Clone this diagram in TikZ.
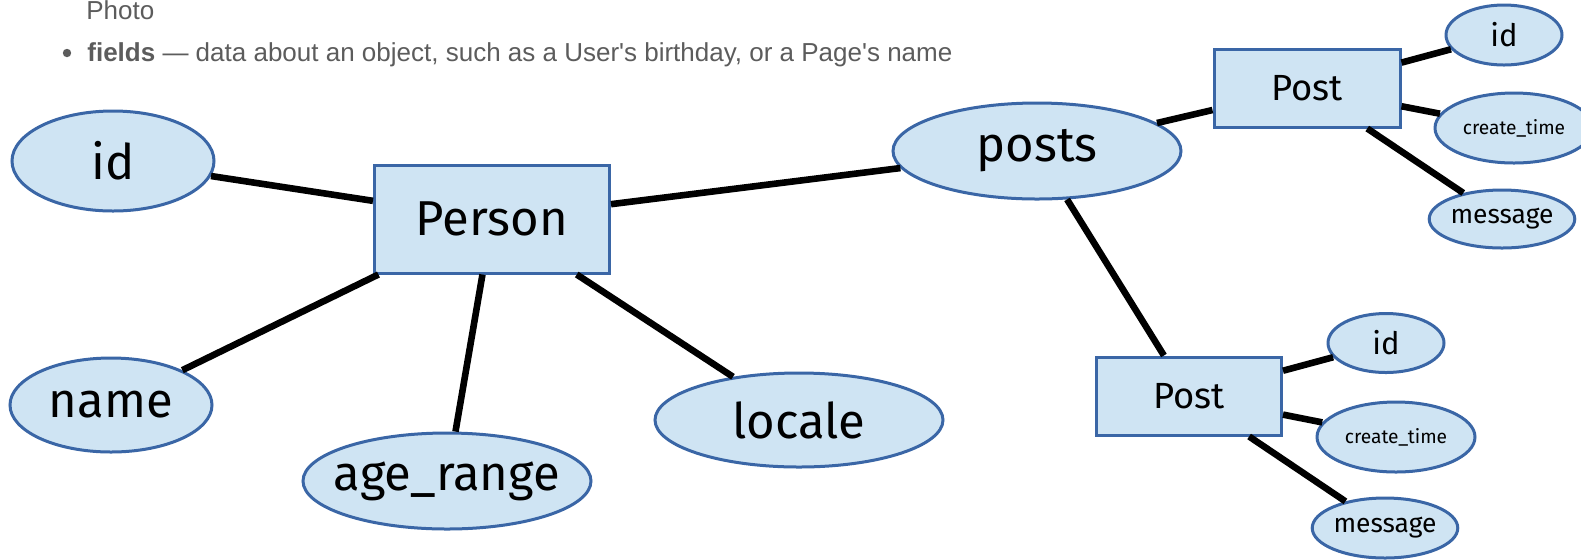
\documentclass[tikz,border=0pt]{standalone}
\usepackage{fontspec}
\setmainfont{Fira Sans}
\newfontfamily\notefont{Liberation Sans}
\usetikzlibrary{shapes.geometric}
\definecolor{attrfill}{HTML}{CFE4F3}
\definecolor{attrline}{HTML}{3A66A6}
\definecolor{notegray}{HTML}{5C5C5C}
\tikzset{
  attr/.style={
    ellipse,
    draw=attrline,
    fill=attrfill,
    line width=1.5pt,
    inner sep=0pt
  },
  entity/.style={
    rectangle,
    draw=attrline,
    fill=attrfill,
    line width=1.5pt,
    inner sep=0pt
  },
  note/.style={
    anchor=base west,
    inner sep=0pt,
    text=notegray,
    font=\notefont\fontsize{13}{15}\selectfont
  },
  big label/.style={font=\fontsize{24.5}{27}\selectfont},
  post label/.style={font=\fontsize{18.2}{20}\selectfont},
  id label/.style={font=\fontsize{15.5}{17}\selectfont},
  small label/.style={font=\fontsize{9.6}{11}\selectfont},
  msg label/.style={font=\fontsize{13.2}{15}\selectfont},
  link/.style={line width=3.3pt, black}
}

\begin{document}
\begin{tikzpicture}[x=0.5pt, y=-0.5pt]
    \useasboundingbox (0,0) rectangle (1581,559);
    \fill[white] (0,0) rectangle (1581,559);

    % note text above the diagram
    \node[note] (photo) at (86,19) {Photo};
    \fill[notegray] (67,53) circle (2.1pt);
    \node[note] (fields) at (87,61)
      {\textbf{fields} — data about an object, such as a User's birthday, or a Page's name};

    % Person and its fields
    \node[entity, big label, minimum width=117.5pt, minimum height=54pt] (person) at (492,219) {Person};
    \node[attr, big label, minimum width=101pt, minimum height=50pt] (pid) at (113,161) {id};
    \node[attr, big label, minimum width=101pt, minimum height=47pt] (pname) at (111,405) {name};
    \node[attr, big label, inner xsep=-14pt, minimum width=144pt, minimum height=48pt] (page) at (447,481) {age\_range};
    \node[attr, big label, minimum width=144pt, minimum height=47pt] (plocale) at (799,420) {locale};
    \node[attr, big label, minimum width=144pt, minimum height=48pt] (posts) at (1037,151) {posts};

    % upper Post
    \node[entity, post label, minimum width=93pt, minimum height=39pt] (post1) at (1307,88) {Post};
    \node[attr, id label, minimum width=58pt, minimum height=30pt] (p1id) at (1504,35) {id};
    \node[attr, small label, minimum width=79pt, minimum height=35pt] (p1time) at (1514,128) {create\_time};
    \node[attr, msg label, minimum width=72pt, minimum height=29pt] (p1msg) at (1502,219) {message};

    % lower Post
    \node[entity, post label, minimum width=92.5pt, minimum height=39pt] (post2) at (1189,396) {Post};
    \node[attr, id label, minimum width=58pt, minimum height=29.5pt] (p2id) at (1386,343) {id};
    \node[attr, small label, minimum width=79pt, minimum height=35pt] (p2time) at (1396,437) {create\_time};
    \node[attr, msg label, minimum width=72pt, minimum height=30pt] (p2msg) at (1385,528) {message};

    % connectors
    \draw[link] (pid) -- (person);
    \draw[link] (pname) -- (person);
    \draw[link] (page) -- (person);
    \draw[link] (plocale) -- (person);
    \draw[link] (posts) -- (person);
    \draw[link] (posts) -- (post1);
    \draw[link] (posts) -- (post2);
    \draw[link] (post1) -- (p1id);
    \draw[link] (post1) -- (p1time);
    \draw[link] (post1) -- (p1msg);
    \draw[link] (post2) -- (p2id);
    \draw[link] (post2) -- (p2time);
    \draw[link] (post2) -- (p2msg);
  \end{tikzpicture}
\end{document}
